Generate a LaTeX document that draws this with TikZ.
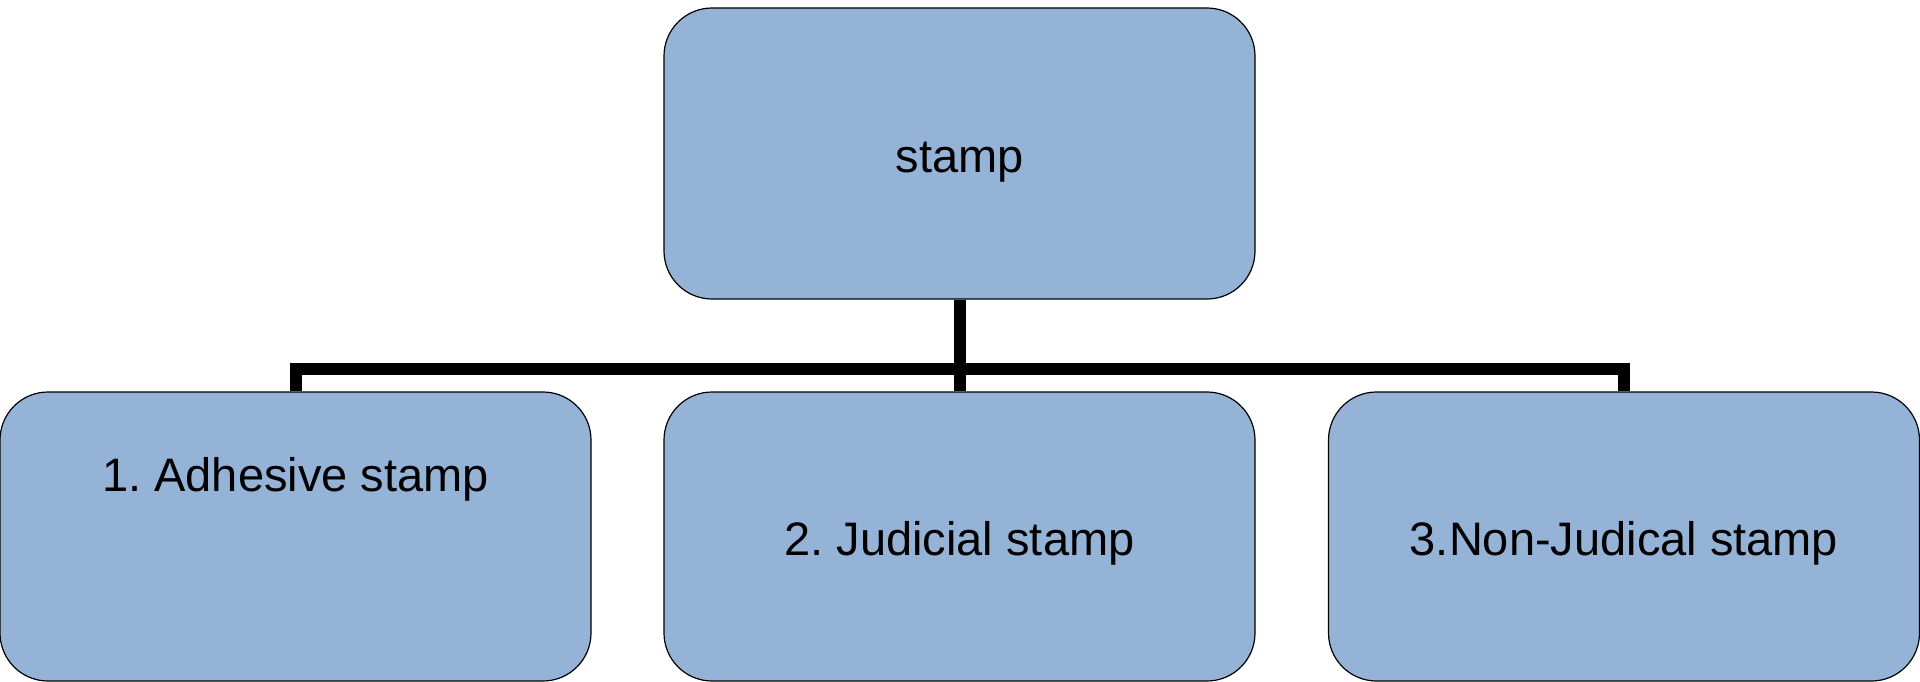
\documentclass[tikz,border=0pt]{standalone}
\usepackage{fontspec}
\setmainfont{Liberation Sans}
\definecolor{boxblue}{HTML}{95B3D7}
\frenchspacing
\begin{document}
\begin{tikzpicture}[x=1pt,y=-1pt,
  box/.style={draw=black, line width=1.2pt, fill=boxblue, rounded corners=48pt, inner sep=0pt, minimum width=591pt},
  topbox/.style={box, minimum height=291pt},
  lowbox/.style={box, minimum height=289pt},
  conn/.style={draw=black, line width=12pt},
  lbl/.style={font=\fontsize{47}{56}\selectfont, anchor=base, inner sep=0pt}]
\useasboundingbox (0,0) rectangle (1920,682);
\node[topbox] (top) at (959.5,153.5) {};
\node[lowbox] (left) at (295.5,536.5) {};
\node[lowbox] (mid) at (959.5,536.5) {};
\node[lowbox] (right) at (1624,536.5) {};
\node[lbl] (ttop) at (959.5,172.7) {stamp};
\node[lbl] (tleft) at (295.5,491) {1. Adhesive stamp};
\node[lbl] (tmid) at (959.5,555.7) {2. Judicial stamp};
\node[lbl] (tright) at (1624,555.7) {3.Non-Judical stamp};
\draw[conn] (top.south) -- (mid.north);
\draw[conn] (left.north) -- ++(0,-22.5) -| (right.north);
\end{tikzpicture}
\end{document}
